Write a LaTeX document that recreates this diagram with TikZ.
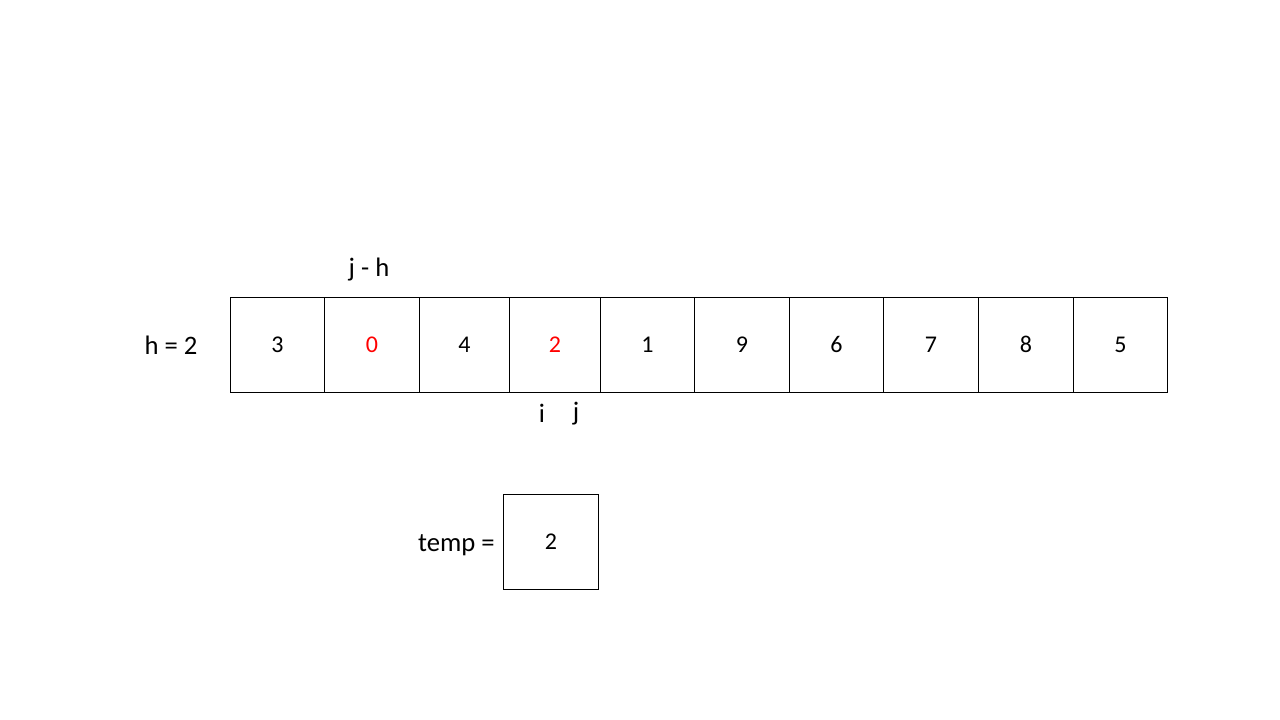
\documentclass[tikz,border=0pt]{standalone}
\usepackage{fontspec}
\setmainfont{Carlito}
\begin{document}
\begin{tikzpicture}[x=0.75pt,y=-0.75pt,
  cell/.style={draw=black,line width=0.8pt,minimum width=#1*0.75pt,minimum height=95*0.75pt,inner sep=0pt,text height=11.4pt,text depth=0pt,font=\fontsize{18}{20}\selectfont,anchor=north west},
  lbl/.style={font=\fontsize{20}{24}\selectfont,inner sep=0pt}]
\useasboundingbox (0,0) rectangle (1280,720);
\node[cell=94] (c0) at (230,297) {3};
\node[cell=95,text=red] (c1) at (324,297) {0};
\node[cell=90] (c2) at (419,297) {4};
\node[cell=91,text=red] (c3) at (509,297) {2};
\node[cell=94] (c4) at (600,297) {1};
\node[cell=95] (c5) at (694,297) {9};
\node[cell=94] (c6) at (789,297) {6};
\node[cell=95] (c7) at (883,297) {7};
\node[cell=95] (c8) at (978,297) {8};
\node[cell=94] (c9) at (1073,297) {5};
\node[lbl] (h) at (171,345) {h = 2};
\node[lbl] (jh) at (369,270) {j - h};
\node[lbl] (i) at (542,413) {i};
\node[lbl] (j) at (576,414) {j};
\node[cell=95] (t) at (503,494) {2};
\node[lbl,anchor=east] (tl) at (495,545) {temp =};
\end{tikzpicture}
\end{document}
